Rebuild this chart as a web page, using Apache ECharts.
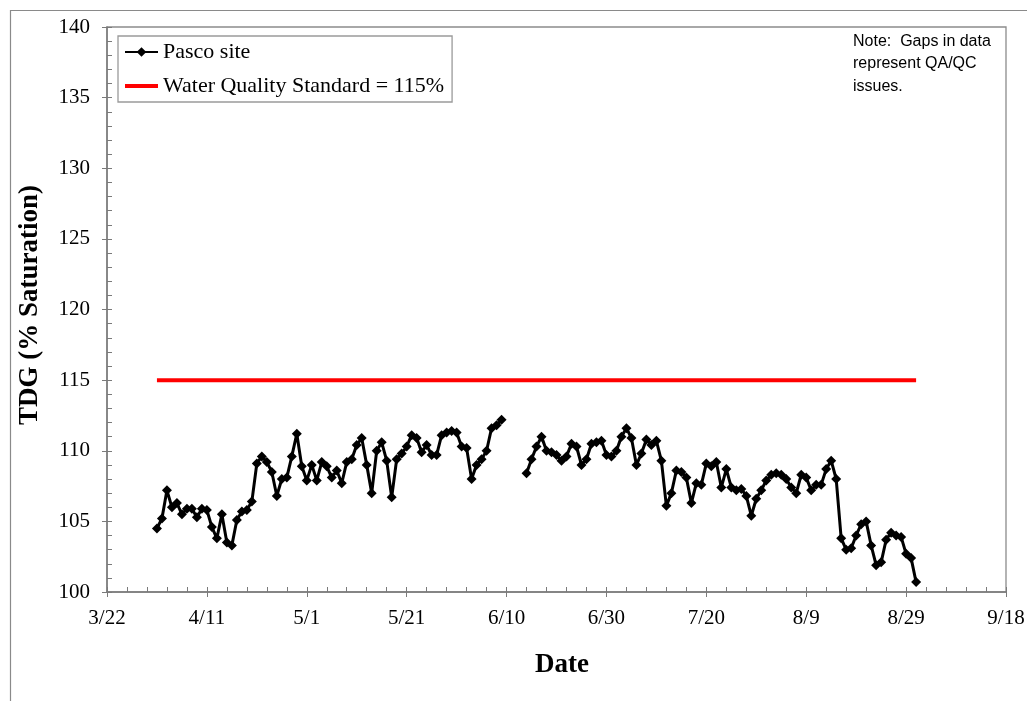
<!DOCTYPE html>
<html><head><meta charset="utf-8">
<script src="https://cdn.jsdelivr.net/npm/echarts@6.0.0/dist/echarts.min.js"></script>
<style>html,body{margin:0;padding:0;background:#fff}#c{width:1027px;height:701px}</style>
</head><body><div id="c"></div>
<script>
// ---- data ----
const YEAR = 2013;
const axisStart = '3/22';
const axisEnd = '9/18';
const xTickStepDays = 20;
const yMin = 100, yMax = 140, yStep = 5;
const seriesNames = ['Pasco site', 'Water Quality Standard = 115%'];
const standardValue = 115;
const standardRange = ['4/1', '8/31'];
// daily TDG readings, first block (4/1 - 6/9)
const pascoStart1 = '4/1';
const pascoValues1 = [
  104.5,105.2,107.2,106.0,106.3,105.5,105.9,105.9,105.3,105.9,
  105.8,104.6,103.8,105.5,103.5,103.3,105.1,105.7,105.8,106.4,
  109.1,109.6,109.2,108.5,106.8,108.0,108.1,109.6,111.2,108.9,
  107.9,109.0,107.9,109.2,108.9,108.1,108.6,107.7,109.2,109.4,
  110.4,110.9,109.0,107.0,110.0,110.6,109.3,106.7,109.4,109.8,
  110.3,111.1,110.9,109.9,110.4,109.7,109.7,111.1,111.3,111.4,
  111.3,110.3,110.2,108.0,109.0,109.4,110.0,111.6,111.8,112.2
];
// daily TDG readings, second block (6/14 - 8/31)
const pascoStart2 = '6/14';
const pascoValues2 = [
  108.4,109.4,110.3,111.0,110.0,109.9,109.7,109.3,109.6,110.5,
  110.3,109.0,109.4,110.5,110.6,110.7,109.7,109.6,110.0,111.0,
  111.6,110.9,109.0,109.8,110.8,110.4,110.7,109.3,106.1,107.0,
  108.6,108.5,108.1,106.3,107.7,107.6,109.1,108.9,109.2,107.4,
  108.7,107.4,107.2,107.3,106.8,105.4,106.6,107.2,107.9,108.3,
  108.4,108.3,108.0,107.4,107.0,108.3,108.1,107.2,107.6,107.6,
  108.7,109.3,108.0,103.8,103.0,103.1,104.0,104.8,105.0,103.3,
  101.9,102.1,103.7,104.2,104.0,103.9,102.7,102.4,100.7
];
const noteLines = ['Note:  Gaps in data', 'represent QA/QC', 'issues.'];
const xTitle = 'Date';
const yTitle = 'TDG (% Saturation)';

// ---- helpers ----
const DAY = 86400000;
function toUTC(md){ const [m,d] = md.split('/').map(Number); return Date.UTC(YEAR, m-1, d); }
const base = toUTC(axisStart);
function off(md){ return Math.round((toUTC(md) - base) / DAY); }
function fmt(v){ const dt = new Date(base + v*DAY); return (dt.getUTCMonth()+1) + '/' + dt.getUTCDate(); }

const s1 = off(pascoStart1), s2 = off(pascoStart2);
const pascoData = pascoValues1.map((v,i)=>[s1+i, v])
  .concat([[s1 + pascoValues1.length, '-']])
  .concat(pascoValues2.map((v,i)=>[s2+i, v]));
const stdData = standardRange.map(md => [off(md), standardValue]);

const serif = 'Liberation Serif, Times New Roman, serif';
const axisColor = '#7a7a7a';

const chart = echarts.init(document.getElementById('c'), null, {renderer:'canvas'});
const gridBox = {left:107, top:27, width:899, height:565};
chart.setOption({
  animation:false,
  backgroundColor:'#fff',
  grid:{...gridBox, containLabel:false, outerBoundsMode:'none', show:true, borderColor:'#8c8c8c', borderWidth:1.3},
  legend:{
    orient:'vertical', left:118, top:36, padding:[5,8,5,6], itemGap:12,
    backgroundColor:'#fff', borderColor:'#9a9a9a', borderWidth:1.3,
    itemWidth:33, itemHeight:12,
    textStyle:{fontFamily:serif, fontSize:22, color:'#000', lineHeight:22},
    data:[{name:seriesNames[0]}, {name:seriesNames[1], icon:'path://M0,0L33,0L33,4L0,4Z', itemStyle:{color:'#ff0000'}}]
  },
  xAxis:[{
    type:'value', min:off(axisStart), max:off(axisEnd), interval:xTickStepDays,
    axisLine:{show:true, onZero:false, lineStyle:{color:axisColor, width:1.5}},
    axisTick:{show:true, inside:true, length:5, lineStyle:{color:axisColor}},
    minorTick:{show:true, splitNumber:5, length:5, lineStyle:{color:axisColor}},
    splitLine:{show:false},
    axisLabel:{formatter:fmt, fontFamily:serif, fontSize:21, color:'#000', margin:16}
  },{
    type:'value', position:'bottom', min:off(axisStart), max:off(axisEnd), interval:xTickStepDays,
    axisLine:{show:false, onZero:false}, axisTick:{show:true, inside:false, length:5, lineStyle:{color:axisColor}},
    axisLabel:{show:false}, splitLine:{show:false}
  }],
  yAxis:[{
    type:'value', min:yMin, max:yMax, interval:yStep,
    axisLine:{show:true, onZero:false, lineStyle:{color:axisColor, width:1.5}},
    axisTick:{show:true, inside:true, length:5, lineStyle:{color:axisColor}},
    minorTick:{show:true, splitNumber:5, length:5, lineStyle:{color:axisColor}},
    splitLine:{show:false},
    axisLabel:{fontFamily:serif, fontSize:21, color:'#000', margin:17}
  },{
    type:'value', position:'left', min:yMin, max:yMax, interval:yStep,
    axisLine:{show:false, onZero:false}, axisTick:{show:true, inside:false, length:5, lineStyle:{color:axisColor}},
    axisLabel:{show:false}, splitLine:{show:false}
  }],
  series:[{
    name:seriesNames[0], type:'line', data:pascoData, connectNulls:false,
    symbol:'diamond', symbolSize:10, showAllSymbol:true,
    itemStyle:{color:'#000'}, lineStyle:{color:'#000', width:3}, z:3
  },{
    name:seriesNames[1], type:'line', data:stdData, symbol:'none',
    itemStyle:{color:'#ff0000'}, lineStyle:{color:'#ff0000', width:4}, z:2
  }],
  graphic:[
    {type:'rect', left:8, top:8, silent:true, shape:{width:1100, height:1000},
     style:{fill:'none', stroke:'#8a8a8a', lineWidth:1.2}, z:-10},
    {type:'text', left:853, top:30, style:{text:noteLines.join('\n'), font:'16px "Liberation Sans", Arial, sans-serif', fill:'#000', lineHeight:22.5}},
    {type:'text', x:30, y:305, rotation:Math.PI/2, style:{text:yTitle, font:'bold 27px "Liberation Serif", serif', fill:'#000', align:'center', verticalAlign:'middle'}},
    {type:'text', x:562, y:665, style:{text:xTitle, font:'bold 27px "Liberation Serif", serif', fill:'#000', align:'center', verticalAlign:'middle'}}
  ]
});
</script></body></html>
